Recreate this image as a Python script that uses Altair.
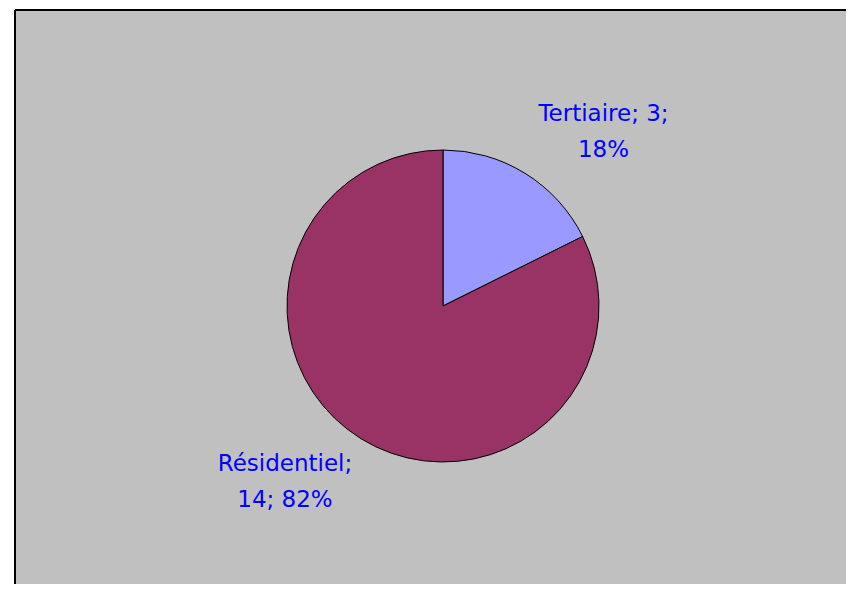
import altair as alt
import pandas as pd

categories = ["Tertiaire", "Résidentiel"]
values = [3, 14]
colors = ["#9999FF", "#993366"]
labels = ["Tertiaire; 3;\n18%", "Résidentiel;\n14; 82%"]

df = pd.DataFrame({"cat": categories, "val": values, "ord": [0, 1], "label": labels})

W, H = 831, 574

base = alt.Chart(df)

pie = base.mark_arc(radius=156, stroke="black", strokeWidth=1).encode(
    theta=alt.Theta("val:Q", stack=True),
    color=alt.Color("cat:N", scale=alt.Scale(domain=categories, range=colors), legend=None),
    order=alt.Order("ord:Q"),
    x=alt.value(428),
    y=alt.value(296),
)

text_style = dict(font="DejaVu Sans", fontSize=23, color="#0000FF",
                  align="center", baseline="alphabetic", lineBreak="\n", lineHeight=35.5)

lab1 = base.transform_filter(alt.datum.cat == "Tertiaire").mark_text(**text_style).encode(
    text="label:N", x=alt.value(588.5), y=alt.value(111)
)
lab2 = base.transform_filter(alt.datum.cat == "Résidentiel").mark_text(**text_style).encode(
    text="label:N", x=alt.value(270), y=alt.value(461)
)

frame = alt.Chart(pd.DataFrame({"k": [0]}))
left_border = frame.mark_rule(color="black", strokeWidth=2).encode(
    x=alt.value(0), y=alt.value(0), y2=alt.value(H)
)
top_border = frame.mark_rule(color="black", strokeWidth=2).encode(
    x=alt.value(0), x2=alt.value(W), y=alt.value(0)
)

chart = (pie + lab1 + lab2 + left_border + top_border).properties(
    width=W,
    height=H,
    padding={"left": 7, "top": 2, "right": 0, "bottom": 0},
    autosize=alt.AutoSizeParams(type="none"),
).configure_view(fill="#C0C0C0", stroke=None)

chart.save("out.html", embed_options={"renderer": "svg", "actions": False})
